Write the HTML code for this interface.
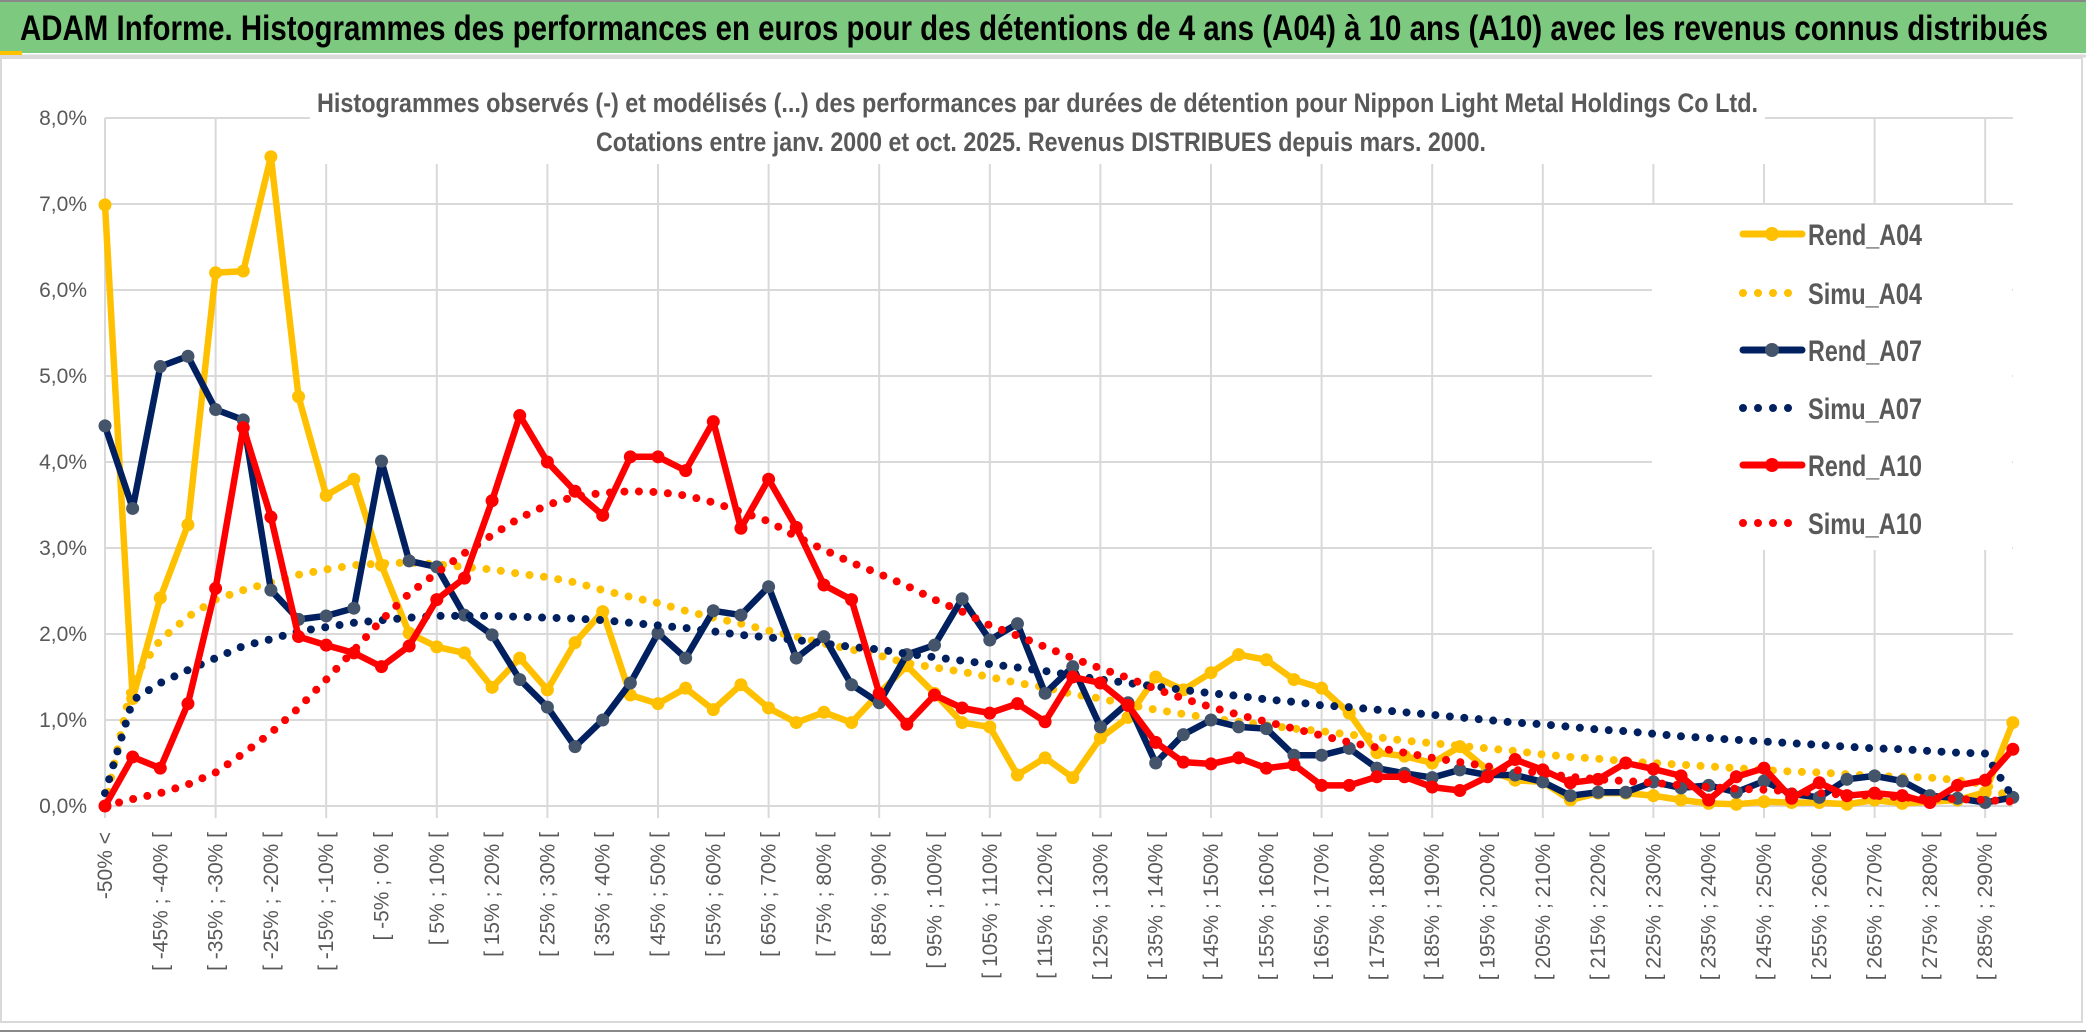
<!DOCTYPE html>
<html><head><meta charset="utf-8"><style>
html,body{margin:0;padding:0;background:#fff}
svg{display:block;font-family:"Liberation Sans",sans-serif}
</style></head><body>
<svg id="chart" width="2086" height="1033" viewBox="0 0 2086 1033">
<rect x="0" y="0" width="2086" height="1033" fill="#fff"/>
<rect x="0" y="0" width="2086" height="53" fill="#7dc97f"/>
<line x1="0" y1="1" x2="2086" y2="1" stroke="#888" stroke-width="2"/>
<line x1="0" y1="56" x2="2086" y2="56" stroke="#d9d9d9" stroke-width="3"/>
<rect x="0" y="51" width="22" height="4" fill="#ffc000"/>
<text x="20" y="40" font-size="35" font-weight="bold" fill="#000" textLength="2028" lengthAdjust="spacingAndGlyphs">ADAM Informe. Histogrammes des performances en euros pour des détentions de 4 ans (A04) à 10 ans (A10) avec les revenus connus distribués</text>
<rect x="1" y="58" width="2081" height="964" fill="none" stroke="#d9d9d9" stroke-width="2"/>
<line x1="0" y1="1031" x2="2086" y2="1031" stroke="#888" stroke-width="2"/>
<g id="grid"></g>
<rect x="310" y="82" width="1455" height="82" fill="#fff"/>
<text x="317" y="112" font-size="27" font-weight="bold" fill="#595959" textLength="1441" lengthAdjust="spacingAndGlyphs">Histogrammes observés (-) et modélisés (...) des performances par durées de détention pour Nippon Light Metal Holdings Co Ltd.</text>
<text x="596" y="151" font-size="27" font-weight="bold" fill="#595959" textLength="890" lengthAdjust="spacingAndGlyphs">Cotations entre janv. 2000 et oct. 2025. Revenus DISTRIBUES depuis mars. 2000.</text>
<g id="yaxis"></g>
<g id="xaxis"></g>
<g id="series"></g>
<rect x="1652" y="205" width="360" height="345" fill="#fff"/>
<g id="legend"></g>
</svg>
<script>
const rendA04=[6.99,1.25,2.42,3.27,6.2,6.22,7.55,4.76,3.61,3.8,2.8,2.01,1.85,1.78,1.38,1.72,1.35,1.9,2.26,1.29,1.19,1.37,1.12,1.41,1.14,0.97,1.09,0.97,1.31,1.63,1.31,0.97,0.92,0.36,0.56,0.33,0.79,1.03,1.5,1.35,1.55,1.76,1.7,1.47,1.37,1.08,0.62,0.58,0.5,0.69,0.42,0.3,0.28,0.07,0.15,0.15,0.12,0.07,0.03,0.02,0.05,0.04,0.04,0.02,0.07,0.03,0.05,0.07,0.16,0.97];
const simuA04=[0,1.47,1.93,2.2,2.4,2.51,2.6,2.69,2.75,2.8,2.82,2.83,2.81,2.78,2.75,2.7,2.66,2.6,2.51,2.43,2.36,2.27,2.19,2.12,2.04,1.97,1.89,1.82,1.75,1.66,1.61,1.56,1.5,1.43,1.38,1.3,1.25,1.18,1.12,1.07,1.02,0.98,0.94,0.9,0.87,0.83,0.8,0.76,0.73,0.7,0.67,0.64,0.6,0.57,0.55,0.52,0.5,0.48,0.46,0.44,0.42,0.4,0.39,0.37,0.35,0.34,0.33,0.3,0.25,0.08];
const rendA07=[4.42,3.46,5.11,5.23,4.61,4.49,2.51,2.17,2.21,2.3,4.01,2.85,2.78,2.22,1.99,1.47,1.15,0.69,1.0,1.43,2.01,1.72,2.27,2.22,2.55,1.72,1.97,1.41,1.2,1.76,1.87,2.41,1.93,2.12,1.31,1.62,0.92,1.2,0.5,0.83,1.0,0.92,0.9,0.59,0.59,0.67,0.44,0.38,0.33,0.42,0.36,0.36,0.28,0.12,0.16,0.16,0.28,0.21,0.24,0.16,0.29,0.14,0.1,0.31,0.35,0.29,0.12,0.09,0.04,0.1];
const simuA07=[0.15,1.23,1.43,1.58,1.72,1.86,1.94,2.03,2.08,2.13,2.16,2.19,2.21,2.21,2.21,2.2,2.19,2.18,2.16,2.13,2.1,2.07,2.03,1.99,1.96,1.93,1.89,1.85,1.82,1.77,1.73,1.69,1.65,1.61,1.57,1.52,1.47,1.43,1.39,1.35,1.31,1.28,1.24,1.21,1.17,1.15,1.12,1.09,1.06,1.03,1.0,0.97,0.95,0.92,0.89,0.87,0.84,0.81,0.79,0.77,0.75,0.73,0.71,0.69,0.67,0.66,0.64,0.62,0.61,0.1];
const rendA10=[0,0.57,0.44,1.19,2.53,4.4,3.36,1.97,1.87,1.78,1.62,1.86,2.4,2.65,3.55,4.54,4.0,3.66,3.38,4.06,4.06,3.9,4.47,3.23,3.8,3.24,2.57,2.4,1.31,0.95,1.29,1.14,1.08,1.19,0.98,1.5,1.43,1.17,0.74,0.51,0.49,0.56,0.44,0.48,0.24,0.24,0.34,0.34,0.22,0.18,0.34,0.54,0.42,0.27,0.31,0.5,0.43,0.35,0.07,0.34,0.44,0.09,0.27,0.12,0.15,0.12,0.04,0.24,0.3,0.66];
const simuA10=[0,0.08,0.15,0.25,0.39,0.61,0.85,1.14,1.47,1.81,2.16,2.47,2.71,2.94,3.15,3.35,3.5,3.6,3.64,3.66,3.65,3.61,3.53,3.42,3.31,3.13,2.98,2.83,2.7,2.56,2.4,2.26,2.1,1.98,1.85,1.72,1.6,1.49,1.36,1.25,1.15,1.06,0.98,0.9,0.82,0.74,0.68,0.62,0.56,0.51,0.46,0.42,0.38,0.34,0.31,0.29,0.27,0.24,0.22,0.2,0.19,0.17,0.15,0.13,0.12,0.1,0.09,0.08,0.07,0.05];
const yTicks=[0,1,2,3,4,5,6,7,8];
const yTickLabels=["0,0%","1,0%","2,0%","3,0%","4,0%","5,0%","6,0%","7,0%","8,0%"];
const categories=["-50% <"];
for(let k=1;k<70;k++){categories.push("[ "+(-55+5*k)+"% ; "+(-50+5*k)+"% [");}

const NS="http://www.w3.org/2000/svg";
const X0=105,STEP=27.65,Y0=806,PPU=86;
function xs(i){return X0+i*STEP;}
function ys(v){return Y0-v*PPU;}
function mk(tag,attrs,parent){const e=document.createElementNS(NS,tag);for(const k in attrs)e.setAttribute(k,attrs[k]);parent.appendChild(e);return e;}

const grid=document.getElementById('grid');
yTicks.forEach((t,i)=>{
  const l=mk('line',{x1:X0,x2:xs(69),y1:ys(t),y2:ys(t),stroke:'#d9d9d9','stroke-width':2},grid);
  
  
});
for(let i=0;i<categories.length;i+=4){
  const l=mk('line',{x1:xs(i),x2:xs(i),y1:ys(8),y2:ys(0)+12,stroke:'#d9d9d9','stroke-width':2},grid);
  
  
}
const yaxis=document.getElementById('yaxis');
yTicks.forEach((t,i)=>{
  const tx=mk('text',{x:87,y:ys(t)+7,'text-anchor':'end','font-size':21,fill:'#595959'},yaxis);
  tx.textContent=yTickLabels[i];
  
  
});
const xaxis=document.getElementById('xaxis');
categories.forEach((c,i)=>{
  if(i%2)return;
  const x=xs(i)+7;
  const tx=mk('text',{x:x,y:832,transform:'rotate(-90 '+x+' 832)','text-anchor':'end','font-size':21,fill:'#595959'},xaxis);
  tx.textContent=c;
  
  
});

const series=[
  {name:'Rend_A04',data:rendA04,color:'#ffc000',marker:'#ffc000',dotted:false},
  {name:'Simu_A04',data:simuA04,color:'#ffc000',dotted:true},
  {name:'Rend_A07',data:rendA07,color:'#002060',marker:'#44546a',dotted:false},
  {name:'Simu_A07',data:simuA07,color:'#002060',dotted:true},
  {name:'Rend_A10',data:rendA10,color:'#ff0000',marker:'#ff0000',dotted:false},
  {name:'Simu_A10',data:simuA10,color:'#ff0000',dotted:true}
];
const sg=document.getElementById('series');
series.forEach(s=>{
  const g=mk('g',{},sg);
  
  
  const pts=s.data.map((v,i)=>xs(i).toFixed(1)+','+ys(v).toFixed(1)).join(' ');
  const pl=mk('polyline',{points:pts,fill:'none',stroke:s.color,'stroke-linejoin':'round','stroke-linecap':'round'},g);
  if(s.dotted){pl.setAttribute('stroke-width',8);pl.setAttribute('stroke-dasharray','0 14.5');}
  else{pl.setAttribute('stroke-width',6.5);}
  
  
  if(!s.dotted){
    s.data.forEach((v,i)=>{
      const c=mk('circle',{cx:xs(i),cy:ys(v),r:6.5,fill:s.marker},g);
      
      
    });
  }
});
const lg=document.getElementById('legend');
const legY=[234,293,350,408,465,523];
series.forEach((s,i)=>{
  const y=legY[i];
  const g=mk('g',{},lg);
  
  
  const l=mk('line',{x1:1743,x2:1802,y1:y,y2:y,stroke:s.color,'stroke-linecap':'round'},g);
  if(s.dotted){l.setAttribute('stroke-width',8);l.setAttribute('stroke-dasharray','0 15');}
  else{l.setAttribute('stroke-width',7);mk('circle',{cx:1772,cy:y,r:7,fill:s.marker},g);}
  const t=mk('text',{x:1808,y:y+11,'font-size':30,'font-weight':'bold',fill:'#595959',textLength:114,lengthAdjust:'spacingAndGlyphs'},g);
  t.textContent=s.name;
});
</script>
</body></html>
